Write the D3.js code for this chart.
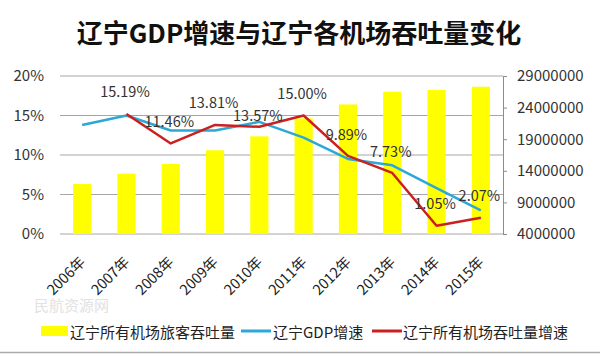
<!DOCTYPE html>
<html><head><meta charset="utf-8">
<script src="https://cdn.jsdelivr.net/npm/d3@7"></script>
<style>
html,body{margin:0;padding:0;background:#fff;}
svg{display:block;font-family:"Noto Sans CJK SC","Noto Sans",sans-serif;}
</style></head>
<body>
<svg id="chart" width="600" height="356"></svg>
<script>
// ---- data ----
const years = ["2006年","2007年","2008年","2009年","2010年","2011年","2012年","2013年","2014年","2015年"];
const passengers = [11900000,13550000,15100000,17250000,19450000,22300000,24500000,26500000,26800000,27300000];
const gdpGrowth = [13.8,15.0,13.1,13.1,14.2,12.2,9.5,8.7,5.8,3.0];
const airportGrowth = [null,15.19,11.46,13.81,13.57,15.00,9.89,7.73,1.05,2.07];
const leftTicks = [0,5,10,15,20];
const rightTicks = [4000000,9000000,14000000,19000000,24000000,29000000];
const title = "辽宁GDP增速与辽宁各机场吞吐量变化";
const legendNames = ["辽宁所有机场旅客吞吐量","辽宁GDP增速","辽宁所有机场吞吐量增速"];

// ---- layout ----
const svg = d3.select("#chart");
const pL = 60, pR = 503, pT = 76, pB = 234;
const x = d3.scaleBand().domain(years).range([pL, pR]);
const yL = d3.scaleLinear().domain([0, 20]).range([pB, pT]);
const yR = d3.scaleLinear().domain([4000000, 29000000]).range([pB, pT]);
const cx = d => x(d) + x.bandwidth() / 2;

// title
svg.append("text").attr("x", 299).attr("y", 43).attr("text-anchor", "middle")
  .attr("font-size", 26).attr("font-weight", "bold").attr("fill", "#111").text(title);

// watermark (faint)
svg.append("text").attr("x", 34).attr("y", 311).attr("font-size", 15).attr("fill", "#e2e2e2").text("民航资源网");

// gridlines (left axis)
svg.append("g").selectAll("line").data(leftTicks).join("line")
  .attr("x1", pL).attr("x2", pR).attr("y1", d => yL(d)).attr("y2", d => yL(d))
  .attr("stroke", "#a6a6a6").attr("stroke-width", 1);

// left axis labels
svg.append("g").selectAll("text").data(leftTicks).join("text")
  .attr("x", 44).attr("y", d => yL(d)).attr("dy", "0.35em").attr("text-anchor", "end")
  .attr("font-size", 15).attr("fill", "#333").text(d => d + "%");

// right axis
const rAxis = svg.append("g").attr("transform", `translate(${pR},0)`)
  .call(d3.axisRight(yR).tickValues(rightTicks).tickSize(4).tickPadding(10).tickFormat(d3.format("d")));
rAxis.select(".domain").attr("stroke", "#8c8c8c");
rAxis.selectAll(".tick line").attr("stroke", "#8c8c8c");
rAxis.selectAll("text").attr("font-size", 15).attr("fill", "#333").attr("font-family", "\"Noto Sans CJK SC\",sans-serif");

// bars
const bw = x.bandwidth() * 0.41;
svg.append("g").selectAll("rect").data(years).join("rect")
  .attr("x", (d) => cx(d) - bw / 2).attr("width", bw)
  .attr("y", (d, i) => yR(passengers[i])).attr("height", (d, i) => pB - yR(passengers[i]))
  .attr("fill", "#ffff00");

// lines
const gdpLine = d3.line().x((d, i) => cx(years[i])).y(d => yL(d));
svg.append("path").datum(gdpGrowth).attr("d", gdpLine)
  .attr("fill", "none").attr("stroke", "#2ba8d6").attr("stroke-width", 2.5).attr("stroke-linejoin", "round");
const apLine = d3.line().defined(d => d !== null).x((d, i) => cx(years[i])).y(d => yL(d));
svg.append("path").datum(airportGrowth).attr("d", apLine)
  .attr("fill", "none").attr("stroke", "#cc1f1f").attr("stroke-width", 2.5).attr("stroke-linejoin", "round");

// data labels
const labelLift = [22,22,22,22,11,22,21,21,22,22];
svg.append("g").selectAll("text").data(airportGrowth.map((v, i) => ({v, i})).filter(d => d.v !== null)).join("text")
  .attr("x", d => cx(years[d.i]) - 1.5).attr("y", d => yL(d.v) - labelLift[d.i]).attr("dy", "0.35em")
  .attr("text-anchor", "middle").attr("font-size", 14.5).attr("fill", "#333")
  .text(d => d.v.toFixed(2) + "%");

// x labels
svg.append("g").selectAll("text").data(years).join("text")
  .attr("transform", d => `translate(${cx(d) + 4},${263}) rotate(-45)`)
  .attr("text-anchor", "end").attr("font-size", 14.5).attr("fill", "#222").text(d => d);

// legend
const lg = svg.append("g");
lg.append("rect").attr("x", 41).attr("y", 326).attr("width", 27).attr("height", 10).attr("fill", "#ffff00");
lg.append("line").attr("x1", 241).attr("x2", 271).attr("y1", 331).attr("y2", 331).attr("stroke", "#2ba8d6").attr("stroke-width", 3);
lg.append("line").attr("x1", 372).attr("x2", 402).attr("y1", 331).attr("y2", 331).attr("stroke", "#cc1f1f").attr("stroke-width", 3);
const lx = [70, 273, 403];
lg.selectAll("text.l").data(legendNames).join("text").attr("class", "l")
  .attr("x", (d, i) => lx[i]).attr("y", 333).attr("dy", "0.35em")
  .attr("font-size", 15).attr("fill", "#222").text(d => d);

// bottom border
svg.append("line").attr("x1", 0).attr("x2", 600).attr("y1", 352.5).attr("y2", 352.5)
  .attr("stroke", "#aaa").attr("stroke-width", 1.5);
</script>
</body></html>
